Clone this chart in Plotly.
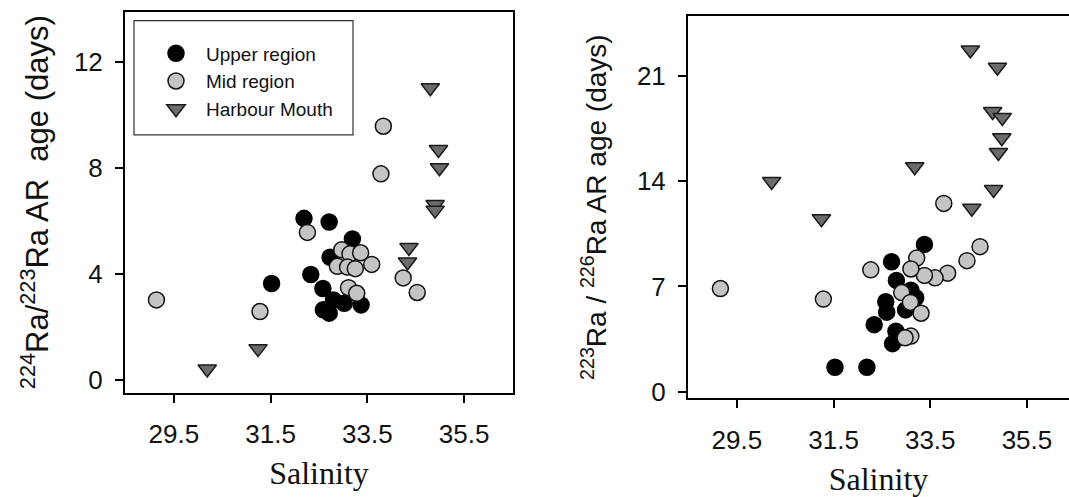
import plotly.graph_objects as go

# ---- Left panel: 224Ra/223Ra AR age vs salinity ----
L_upper_sal = [32.19, 32.71, 33.19, 32.73, 32.33, 31.52, 32.58, 32.80, 33.02, 33.37, 32.59, 32.71]
L_upper_age = [6.10, 5.96, 5.32, 4.63, 3.98, 3.64, 3.45, 3.02, 2.89, 2.83, 2.65, 2.52]

L_mid_sal = [29.14, 31.28, 32.26, 32.97, 33.14, 33.36, 32.88, 33.09, 33.25, 33.59, 33.11, 33.28, 33.83, 33.78, 34.24, 34.53]
L_mid_age = [3.02, 2.58, 5.57, 4.91, 4.76, 4.80, 4.29, 4.26, 4.20, 4.36, 3.48, 3.27, 9.58, 7.78, 3.85, 3.30]

L_mouth_sal = [34.80, 34.97, 34.99, 34.90, 34.90, 34.36, 34.33, 31.24, 30.19]
L_mouth_age = [11.03, 8.70, 8.01, 6.62, 6.41, 5.00, 4.45, 1.18, 0.41]

# ---- Right panel: 223Ra/226Ra AR age vs salinity ----
R_upper_sal = [33.38, 32.70, 32.80, 33.10, 33.20, 32.58, 32.60, 32.99, 32.34, 32.79, 32.72, 31.53, 32.19]
R_upper_age = [9.79, 8.64, 7.40, 6.75, 6.25, 5.98, 5.29, 5.44, 4.46, 4.03, 3.20, 1.63, 1.63]

R_mid_sal = [29.16, 31.29, 32.27, 33.78, 34.53, 34.26, 33.86, 33.60, 33.38, 33.22, 33.10, 32.91, 33.09, 33.31, 33.10, 32.98]
R_mid_age = [6.86, 6.16, 8.10, 12.51, 9.64, 8.71, 7.88, 7.57, 7.73, 8.88, 8.16, 6.59, 5.94, 5.22, 3.70, 3.59]

R_mouth_sal = [34.33, 34.89, 34.79, 34.99, 34.98, 34.91, 33.18, 30.22, 34.81, 34.36, 31.25]
R_mouth_age = [22.70, 21.55, 18.61, 18.22, 16.87, 15.89, 14.95, 13.97, 13.43, 12.19, 11.49]

x_ticks = [29.5, 31.5, 33.5, 35.5]
x_ticklabels = ["29.5", "31.5", "33.5", "35.5"]
L_y_ticks = [0, 4, 8, 12]
R_y_ticks = [0, 7, 14, 21]

SANS = "Liberation Sans, Arial, sans-serif"
SERIF = "Liberation Serif, Times New Roman, serif"

styles = {
    "Upper region": dict(symbol="circle", color="#000000", line=dict(color="#000000", width=1.5)),
    "Mid region": dict(symbol="circle", color="#c4c4c4", line=dict(color="#111111", width=1.5)),
    "Harbour Mouth": dict(symbol="triangle-down", color="#6b6b6b", line=dict(color="#1a1a1a", width=1.5)),
}

fig = go.Figure()

def add(xs, ys, name, xa, ya, show):
    st = styles[name]
    fig.add_trace(go.Scatter(
        x=xs, y=ys, mode="markers", name=name, xaxis=xa, yaxis=ya,
        showlegend=show, legendgroup=name,
        marker=dict(symbol=st["symbol"], size=16, color=st["color"], line=st["line"]),
    ))

add(L_upper_sal, L_upper_age, "Upper region", "x", "y", True)
add(L_mid_sal, L_mid_age, "Mid region", "x", "y", True)
add(L_mouth_sal, L_mouth_age, "Harbour Mouth", "x", "y", True)
add(R_upper_sal, R_upper_age, "Upper region", "x2", "y2", False)
add(R_mid_sal, R_mid_age, "Mid region", "x2", "y2", False)
add(R_mouth_sal, R_mouth_age, "Harbour Mouth", "x2", "y2", False)

axis_common = dict(showgrid=False, zeroline=False, showline=True, linecolor="black", linewidth=2,
                   ticks="outside", ticklen=8, tickwidth=1.5, tickcolor="black",
                   tickfont=dict(family=SANS, size=26, color="#111111"))

xtitle_font = dict(family=SERIF, size=32, color="#111111")

fig.update_layout(
    width=1069, height=497,
    margin=dict(l=0, r=0, t=0, b=0),
    paper_bgcolor="white", plot_bgcolor="white",
    showlegend=True,
    legend=dict(x=146/1069, y=1-35/497, xanchor="left", yanchor="top",
                bgcolor="rgba(0,0,0,0)", borderwidth=0,
                font=dict(family=SANS, size=19, color="#111111"),
                itemwidth=50, tracegroupgap=0, itemsizing="trace"),
    xaxis=dict(domain=[125/1069, 513/1069], range=[28.49, 36.51], mirror=True,
               tickvals=x_ticks, ticktext=x_ticklabels, anchor="y", ticklabelstandoff=9,
               title=dict(text="Salinity", font=xtitle_font, standoff=14),
               **axis_common),
    yaxis=dict(domain=[1-399/497, 1-12/497], range=[-0.48, 13.9], mirror=True,
               tickvals=L_y_ticks, anchor="x", ticklabelstandoff=7,
               title=dict(text="<sup>224</sup>Ra/<sup>223</sup>Ra AR\u00a0\u00a0age (days)",
                          font=dict(family=SANS, size=31, color="#111111"), standoff=16),
               **axis_common),
    xaxis2=dict(domain=[688/1069, 1.0], range=[28.49, 36.37], mirror=True,
                tickvals=x_ticks, ticktext=x_ticklabels, anchor="y2", ticklabelstandoff=9,
                title=dict(text="Salinity", font=xtitle_font, standoff=16),
                **axis_common),
    yaxis2=dict(domain=[1-405/497, 1-16/497], range=[-0.44, 24.97], mirror=False,
                tickvals=R_y_ticks, anchor="x2", ticklabelstandoff=7,
                title=dict(text="<sup>223</sup>Ra / <sup>226</sup>Ra AR age (days)",
                           font=dict(family=SANS, size=28, color="#111111"), standoff=22),
                **axis_common),
    shapes=[dict(type="rect", xref="paper", yref="paper",
                 x0=134/1069, x1=353/1069, y0=1-137/497, y1=1-21/497,
                 line=dict(color="#333333", width=1.2), fillcolor="rgba(0,0,0,0)")],
)

fig.write_html("out.html")
